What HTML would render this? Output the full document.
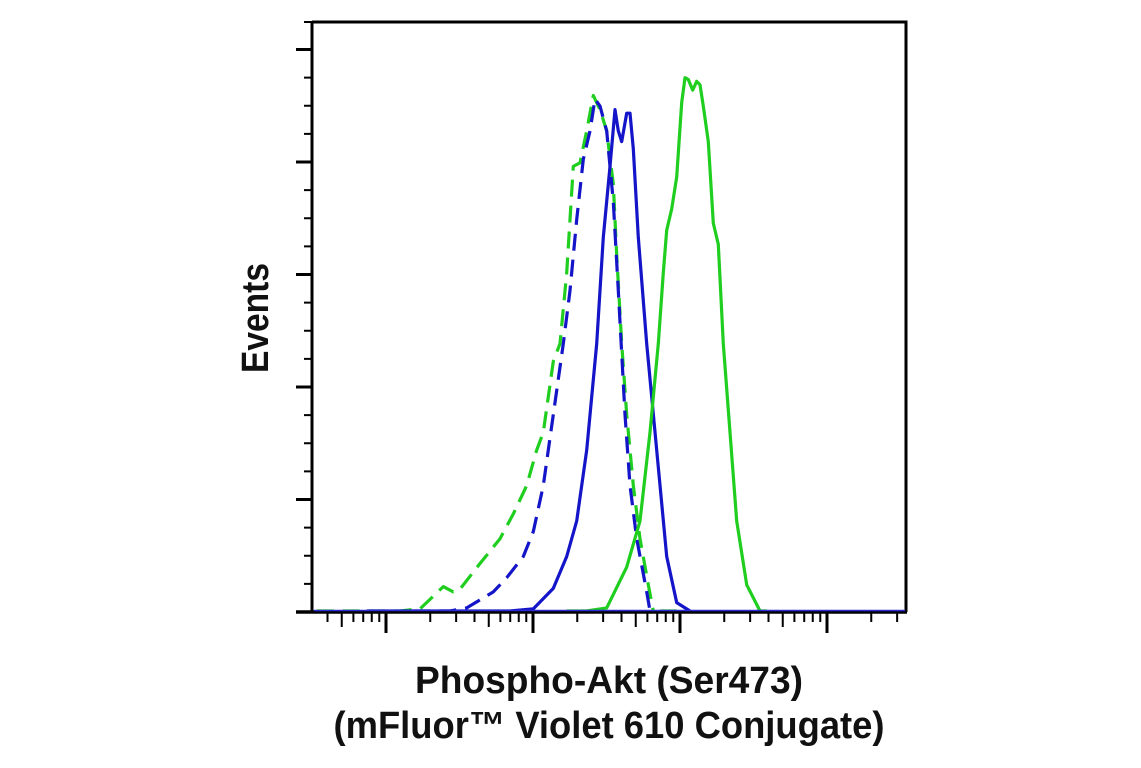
<!DOCTYPE html>
<html><head><meta charset="utf-8"><style>
html,body{margin:0;padding:0;background:#fff;width:1141px;height:768px;overflow:hidden}
svg{display:block}
text{font-family:"Liberation Sans Narrow","Liberation Sans",sans-serif;font-weight:bold;fill:#111}
</style></head><body>
<svg id="s" width="1141" height="768" viewBox="0 0 1141 768">
<g id="ticks" stroke="#000" fill="none"></g>
<g id="curves" fill="none" stroke-linejoin="round" stroke-linecap="butt"></g>
<path d="M312,22 L906,22 L906,612 M312,22 L312,612" stroke="#000" stroke-width="3" fill="none"/>
<line x1="296" y1="612" x2="907" y2="612" stroke="#000" stroke-width="3.5"/>
<line x1="314" y1="610.5" x2="905" y2="610.5" stroke="#2a2ad0" stroke-width="1.5"/>
<text x="268" y="318" text-anchor="middle" font-size="38" transform="rotate(-90 268 318)" textLength="110" lengthAdjust="spacingAndGlyphs">Events</text>
<text x="609" y="693" text-anchor="middle" font-size="38" textLength="388" lengthAdjust="spacingAndGlyphs">Phospho-Akt (Ser473)</text>
<text x="609" y="738" text-anchor="middle" font-size="38" textLength="551" lengthAdjust="spacingAndGlyphs">(mFluor™ Violet 610 Conjugate)</text>
</svg>
<script>
var NS="http://www.w3.org/2000/svg";
var tg=document.getElementById('ticks');
function ln(x1,y1,x2,y2,w){var l=document.createElementNS(NS,'line');l.setAttribute('x1',x1);l.setAttribute('y1',y1);l.setAttribute('x2',x2);l.setAttribute('y2',y2);l.setAttribute('stroke-width',w);tg.appendChild(l);}
var yM=[612,499.5,387,274.5,162,49.5];
for(var i=0;i<yM.length;i++){ln(296,yM[i],312,yM[i],3);}
for(var i=0;i<5;i++){for(var k=1;k<4;k++){var y=yM[i]-(112.5*k/4);ln(304,y,312,y,2);}}
ln(304,22,312,22,2);
var d0=239,dw=147;
for(var dec=0;dec<5;dec++){var b=d0+dec*dw;
 if(b>=312&&b<=906)ln(b,612,b,633,3);
 for(var m=2;m<=9;m++){var x=b+Math.log10(m)*dw;if(x>314&&x<905){ln(x,612,x,m==5?627:622,2);}}}
var cg=document.getElementById('curves');
function curve(pts,col,dash){var d='';for(var i=0;i<pts.length;i++){var x=400+pts[i][0]/3,y=60+pts[i][1]/2.82;if(y>611)y=611;d+=(i?'L':'M')+x.toFixed(1)+','+y.toFixed(1);}
 var p=document.createElementNS(NS,'path');p.setAttribute('d',d);p.setAttribute('stroke',col);p.setAttribute('stroke-width','3.2');if(dash)p.setAttribute('stroke-dasharray','17 9');cg.appendChild(p);}
curve([[-250,1580],[0,1575],[60,1548],[130,1485],[160,1500],[180,1492],[240,1420],[300,1350],[340,1280],[380,1200],[410,1100],[430,1050],[460,850],[480,800],[500,600],[520,300],[540,290],[560,200],[580,100],[600,140],[620,200],[640,350],[650,550],[665,800],[680,1000],[700,1200],[720,1350],[745,1480],[760,1575]],'#1fce1f',true);
curve([[40,1575],[150,1560],[200,1545],[280,1500],[320,1460],[370,1400],[400,1330],[430,1200],[460,1000],[490,800],[510,650],[530,450],[550,280],[570,200],[585,110],[600,130],[620,200],[640,400],[655,650],[675,1000],[690,1200],[710,1350],[740,1500],[750,1575]],'#1414c8',true);
curve([[-100,1580],[330,1575],[400,1548],[460,1490],[500,1400],[530,1300],[560,1100],[590,800],[610,500],[630,300],[645,140],[655,200],[665,230],[680,150],[690,150],[700,250],[715,500],[740,800],[770,1100],[800,1400],[830,1530],[870,1578]],'#1414c8',false);
curve([[780,1578],[830,1578]],'#1fce1f',false);
curve([[500,1580],[560,1578],[620,1545],[680,1430],[720,1300],[750,1050],[775,800],[790,600],[800,480],[815,420],[830,330],[845,120],[855,50],[865,55],[878,85],[890,60],[900,70],[910,130],[925,230],[940,460],[955,520],[970,800],[990,1050],[1010,1300],[1040,1480],[1080,1578],[1100,1580]],'#1fce1f',false);
</script>
</body></html>
